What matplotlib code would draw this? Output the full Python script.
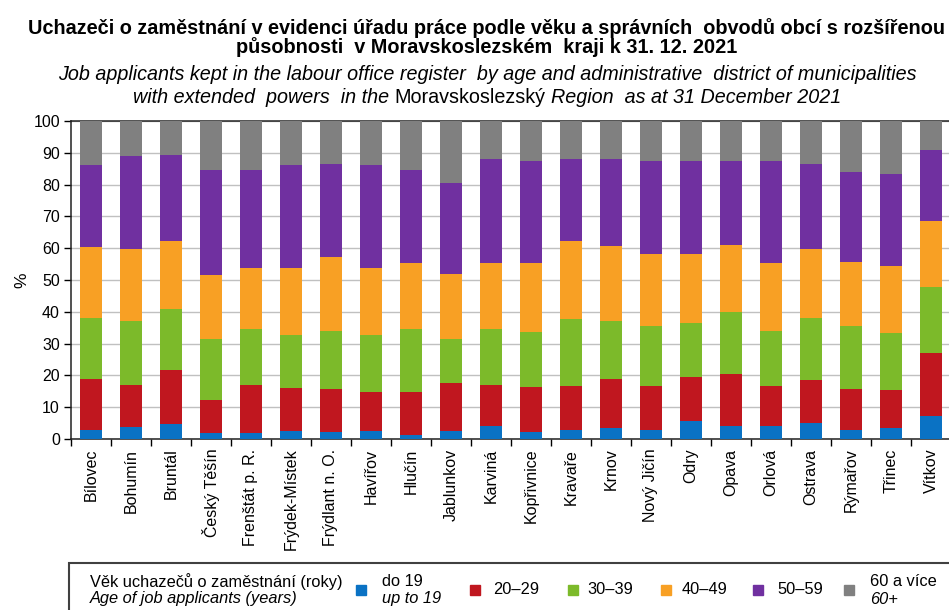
import matplotlib
matplotlib.use("Agg")
import matplotlib.pyplot as plt
import matplotlib.patches as mpatches
import numpy as np


districts = [
    "Bílovec", "Bohumín", "Bruntál", "Český Těšín", "Frenštát p. R.",
    "Frýdek-Místek", "Frýdlant n. O.", "Havířov", "Hlučín", "Jablunkov",
    "Karviná", "Kopřivnice", "Kravaře", "Krnov", "Nový Jičín", "Odry",
    "Opava", "Orlová", "Ostrava", "Rýmařov", "Třinec", "Vítkov",
]

# share of job applicants by age group (%)
age_up_to_19 = [2.9, 3.9, 4.8, 2.0, 2.0, 2.5, 2.1, 2.5, 1.4, 2.5, 4.0,
                2.1, 2.9, 3.4, 2.9, 5.8, 4.0, 4.0, 4.9, 2.9, 3.4, 7.3]
age_20_29 = [15.9, 13.2, 17.0, 10.4, 15.1, 13.5, 13.6, 12.2, 13.3, 15.1, 13.1,
             14.1, 13.7, 15.6, 13.7, 13.8, 16.4, 12.6, 13.7, 12.9, 11.9, 19.7]
age_30_39 = [19.4, 19.9, 19.2, 18.9, 17.5, 16.6, 18.3, 17.9, 19.9, 13.7, 17.5,
             17.3, 21.2, 18.0, 18.8, 16.8, 19.4, 17.5, 19.3, 19.6, 18.0, 20.7]
age_40_49 = [22.3, 22.7, 21.4, 20.2, 19.3, 21.3, 23.2, 21.3, 20.7, 20.7, 20.7,
             21.8, 24.6, 23.6, 22.8, 21.8, 21.2, 21.2, 21.8, 20.4, 21.2, 20.9]
age_50_59 = [25.6, 29.3, 26.9, 33.1, 30.7, 32.2, 29.3, 32.2, 29.3, 28.4, 32.7,
             32.2, 25.6, 27.4, 29.3, 29.3, 26.5, 32.2, 26.8, 28.3, 28.7, 22.2]
age_60_plus = [13.9, 11.0, 10.7, 15.4, 15.4, 13.9, 13.5, 13.9, 15.4, 19.6, 12.0,
               12.5, 12.0, 12.0, 12.5, 12.5, 12.5, 12.5, 13.5, 15.9, 16.8, 9.2]

series_cz = ["do 19", "20–29", "30–39", "40–49", "50–59", "60 a více"]
series_en = ["up to 19", "", "", "", "", "60+"]
colors = ["#0a72c4", "#c0171f", "#7cba2a", "#f8a024", "#7030a0", "#808080"]

series = [age_up_to_19, age_20_29, age_30_39, age_40_49, age_50_59, age_60_plus]

SANS = ["Liberation Sans", "DejaVu Sans"]
NARROW = ["Liberation Sans Narrow", "Liberation Sans", "DejaVu Sans"]

plt.rcParams["font.family"] = SANS

W, H = 949, 610
fig = plt.figure(figsize=(W / 100, H / 100), dpi=100)

# -------------------------------------------------
# Plot area
# -------------------------------------------------

ax = fig.add_axes([71 / W, 1 - 439 / H, 880 / W, 318 / H])

x = np.arange(len(districts))
bottom = np.zeros(len(districts))
for values, color in zip(series, colors):
    ax.bar(x, values, bottom=bottom, width=0.55, color=color, zorder=3)
    bottom += np.array(values)

ax.set_xlim(-0.5, len(districts) - 0.5)
ax.set_ylim(0, 100)
ax.set_yticks(np.arange(0, 101, 10))
ax.yaxis.grid(True, color="#c0c0c0", linewidth=1, zorder=0)
ax.set_axisbelow(True)

ax.set_xticks(x)
ax.set_xticklabels(districts, rotation=90, fontsize=11.5)
ax.set_xticks(np.arange(-0.5, len(districts), 1), minor=True)
ax.tick_params(axis="x", which="major", length=0, pad=7)
ax.tick_params(axis="x", which="minor", length=5, width=1, direction="out")
ax.tick_params(axis="y", length=5, width=1, direction="out", labelsize=11.5, pad=3)

for side in ["left", "bottom", "top"]:
    ax.spines[side].set_color("#222222")
    ax.spines[side].set_linewidth(1.1)
ax.spines["right"].set_visible(False)

fig.text(22 / W, 1 - 280 / H, "%", rotation=90, fontsize=12.5,
         ha="center", va="center")

# -------------------------------------------------
# Titles (mixed styles on one line)
# -------------------------------------------------

renderer = fig.canvas.get_renderer()


def text_width(s, **kw):
    t = fig.text(0, 0, s, **kw)
    w = t.get_window_extent(renderer).width
    t.remove()
    return w


def mixed_line(pieces, xc, y, size, family):
    texts = []
    for s, style, weight in pieces:
        t = fig.text(0, 1 - y / H, s, fontsize=size, style=style,
                     weight=weight, family=family, va="baseline", ha="left")
        texts.append(t)
    gaps = []
    for (s, style, weight) in pieces:
        kw = dict(fontsize=size, style=style, weight=weight, family=family)
        gaps.append(text_width("x x", **kw) - text_width("xx", **kw))
    widths = [t.get_window_extent(renderer).width for t in texts]
    total = sum(widths) + sum(gaps[:-1])
    pos = xc - total / 2
    for t, w, g in zip(texts, widths, gaps):
        t.set_x(pos / W)
        pos += w + g


def fit_size(s, target, **kw):
    w = text_width(s, fontsize=10, **kw)
    return 10 * target / w


title1 = "Uchazeči o zaměstnání v evidenci úřadu práce podle věku a správních  obvodů obcí s rozšířenou"
title2 = "působnosti  v Moravskoslezském  kraji k 31. 12. 2021"
sub1 = "Job applicants kept in the labour office register  by age and administrative  district of municipalities"

t_size = fit_size(title1, 915, weight="bold", family=NARROW)
s_size = fit_size(sub1, 861, style="italic", family=NARROW)

mixed_line([(title1, "normal", "bold")], 487, 34, t_size, NARROW)
mixed_line([(title2, "normal", "bold")], 487, 53, t_size, NARROW)
mixed_line([(sub1, "italic", "normal")], 487, 80, s_size, NARROW)
mixed_line([("with extended  powers  in the", "italic", "normal"),
            ("Moravskoslezský", "normal", "normal"),
            ("Region  as at 31 December 2021", "italic", "normal")],
           487, 103, s_size, NARROW)

# -------------------------------------------------
# Legend box
# -------------------------------------------------

box = mpatches.Rectangle((69 / W, 1 - 640 / H), 900 / W, 77 / H,
                         transform=fig.transFigure, fill=False,
                         edgecolor="#404040", linewidth=1.5)
fig.patches.append(box)

fig.text(90 / W, 1 - 582 / H, "Věk uchazečů o zaměstnání (roky)",
         fontsize=11.8, va="center", ha="left")
fig.text(90 / W, 1 - 599 / H, "Age of job applicants (years)",
         fontsize=11.8, style="italic", va="center", ha="left")

square_x = [361, 475, 573, 666, 758, 849]
label_x = [382, 493, 587, 682, 777, 870]
for cz, en, color, sx, lx in zip(series_cz, series_en, colors, square_x, label_x):
    sq = mpatches.Rectangle(((sx - 5) / W, 1 - 595 / H), 10 / W, 10 / H,
                            transform=fig.transFigure, color=color)
    fig.patches.append(sq)
    if en:
        fig.text(lx / W, 1 - 581 / H, cz, fontsize=11.8, va="center", ha="left")
        fig.text(lx / W, 1 - 599 / H, en, fontsize=11.8, style="italic",
                 va="center", ha="left")
    else:
        fig.text(lx / W, 1 - 590 / H, cz, fontsize=11.8, va="center", ha="left")

fig.savefig("out.png", dpi=100)
